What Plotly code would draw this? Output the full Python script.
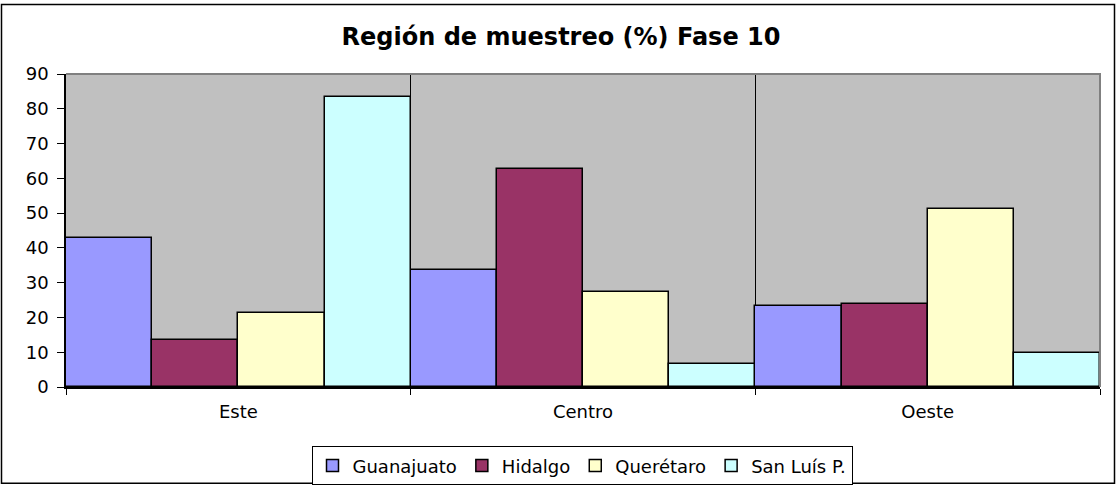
import plotly.graph_objects as go

regions = ["Este", "Centro", "Oeste"]
series_names = ["Guanajuato", "Hidalgo", "Querétaro", "San Luís P."]
guanajuato = [42.9, 33.5, 23.4]
hidalgo = [13.4, 62.6, 23.8]
queretaro = [21.3, 27.2, 51.3]
san_luis = [83.3, 6.6, 9.9]
y_ticks = list(range(0, 100, 10))

colors = ["#9999FF", "#993366", "#FFFFCC", "#CCFFFF"]
values = [guanajuato, hidalgo, queretaro, san_luis]

# the photographed page is slightly compressed vertically; lay out in a taller frame
H = 497
S = H / 485
W = 1116
ML, MR = 66, 16
MT = round(72 * S)
MB = H - round(386 * S)
pw = W - ML - MR
ph = H - MT - MB

def px_x(p):
    return (p - ML) / pw

def px_y(p):
    return (H - MB - p * S) / ph

fig = go.Figure()
for name, vals, c in zip(series_names, values, colors):
    fig.add_trace(go.Bar(x=regions, y=vals, name=name,
                         marker=dict(color=c, line=dict(color="black", width=1.5))))

font = "DejaVu Sans, Arial, sans-serif"
fig.update_layout(
    width=W, height=H,
    margin=dict(l=ML, r=MR, t=MT, b=MB, pad=0),
    paper_bgcolor="white",
    plot_bgcolor="#C0C0C0",
    barmode="group", bargap=0, bargroupgap=0,
    title=dict(text="<b>Región de muestreo (%) Fase 10</b>", x=561 / W, xanchor="center",
               xref="container", y=1 - 36 * S / H, yref="container", yanchor="middle",
               font=dict(family=font, size=24, color="black")),
    font=dict(family=font, color="black"),
    xaxis=dict(type="category", tickson="boundaries", ticks="outside", ticklen=6, tickcolor="black",
               showgrid=True, gridcolor="black", gridwidth=1, showline=True, linecolor="black",
               linewidth=1.5, tickfont=dict(size=18, family=font), range=[-0.5, 2.5],
               zeroline=False, ticklabelstandoff=8),
    yaxis=dict(range=[0, 90], tickvals=y_ticks, ticks="outside", ticklen=7, tickcolor="black",
               showgrid=False, showline=True, linecolor="black", linewidth=1.5, zeroline=False,
               tickfont=dict(size=18, family=font), ticklabelstandoff=5),
    legend=dict(orientation="h", x=px_x(582), xanchor="center", y=px_y(446), yanchor="top",
                bordercolor="black", borderwidth=1, bgcolor="white",
                font=dict(size=18, family=font), itemwidth=30, tracegroupgap=0),
    shapes=[
        dict(type="path", xref="paper", yref="paper", path="M 0,1 L 1,1 L 1,0",
             line=dict(color="#808080", width=2), layer="above"),
        dict(type="rect", xref="paper", yref="paper", x0=px_x(1.5), x1=px_x(1114.5),
             y0=px_y(483), y1=px_y(2.5), line=dict(color="black", width=1.5)),
    ],
)

fig.write_html(
    "out.html",
    config={"displayModeBar": False},
    post_script=(
        "document.body.style.margin='0';"
        "document.body.style.overflow='hidden';"
        "document.documentElement.style.overflow='hidden';"
    ),
)
